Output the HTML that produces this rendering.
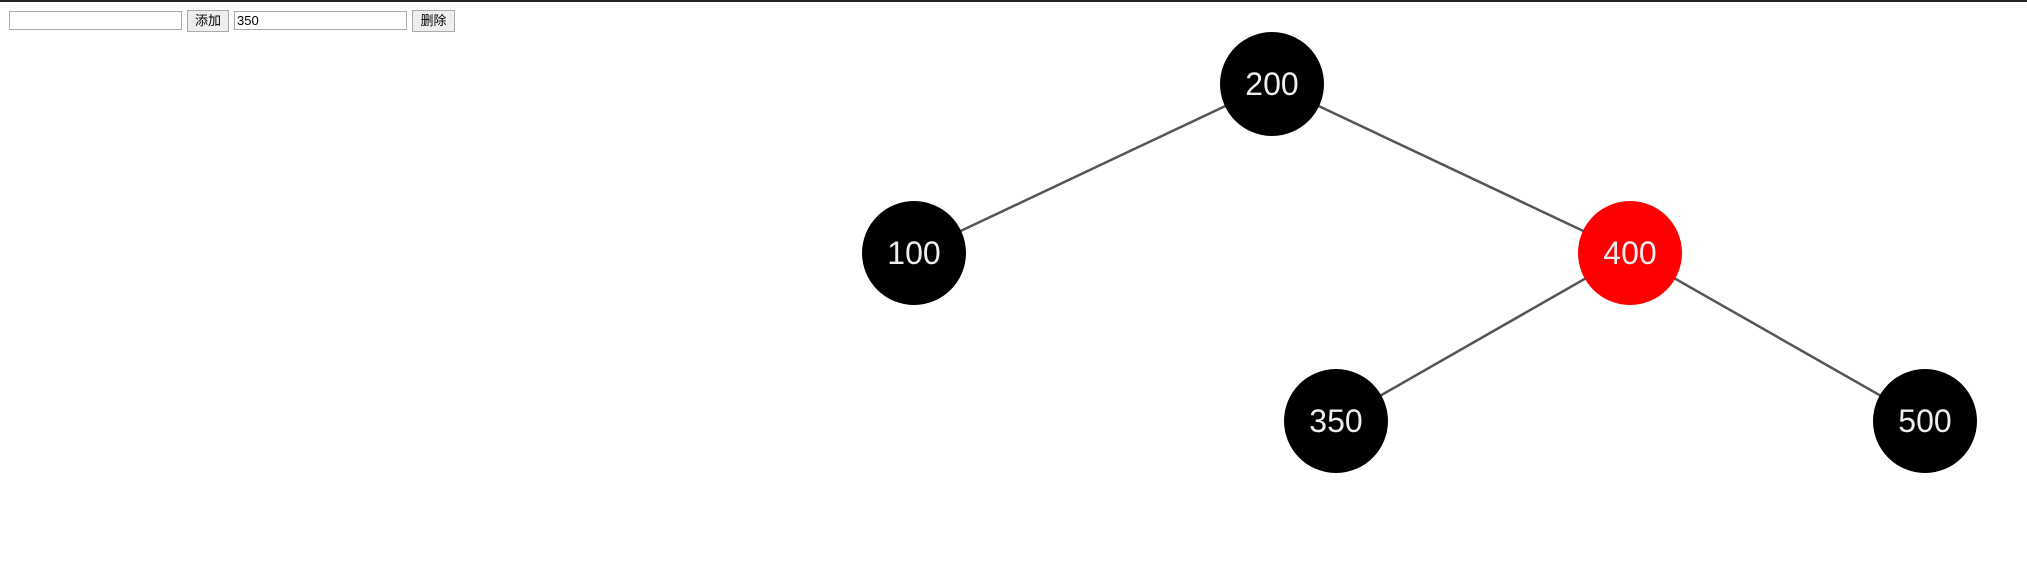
<!DOCTYPE html>
<html><head><meta charset="utf-8"><style>
body{margin:0;width:2027px;height:584px;background:#fff;position:relative;overflow:hidden;font-family:"Liberation Sans","Noto Sans CJK SC",sans-serif}
.top{position:absolute;left:0;top:0;width:2027px;height:2px;background:#222}
.in{position:absolute;top:11px;height:19px;border:1px solid #aaa;box-sizing:border-box;font-size:13px;padding:1px 2px;line-height:16px}
.bt{position:absolute;top:10px;height:22px;border:1px solid #aaa;background:#eee;box-sizing:border-box;font-size:13px;text-align:center;line-height:19px}
</style></head><body>
<div class="top"></div>
<div class="in" style="left:9px;width:173px"></div>
<div class="bt" style="left:187px;width:42px">添加</div>
<div class="in" style="left:234px;width:173px">350</div>
<div class="bt" style="left:412px;width:43px">删除</div>
<svg width="2027" height="584" style="position:absolute;left:0;top:0">
<g stroke="#555" stroke-width="2.5">
<line x1="1272" y1="84" x2="914" y2="253"/>
<line x1="1272" y1="84" x2="1630" y2="253"/>
<line x1="1630" y1="253" x2="1336" y2="421"/>
<line x1="1630" y1="253" x2="1925" y2="421"/>
</g>
<g font-family="Liberation Sans, sans-serif" font-size="32" fill="#eee" text-anchor="middle">
<circle cx="1272" cy="84" r="52" fill="#000"/><text x="1272" y="95">200</text>
<circle cx="914" cy="253" r="52" fill="#000"/><text x="914" y="264">100</text>
<circle cx="1630" cy="253" r="52" fill="#f00"/><text x="1630" y="264">400</text>
<circle cx="1336" cy="421" r="52" fill="#000"/><text x="1336" y="432">350</text>
<circle cx="1925" cy="421" r="52" fill="#000"/><text x="1925" y="432">500</text>
</g>
</svg>
</body></html>
